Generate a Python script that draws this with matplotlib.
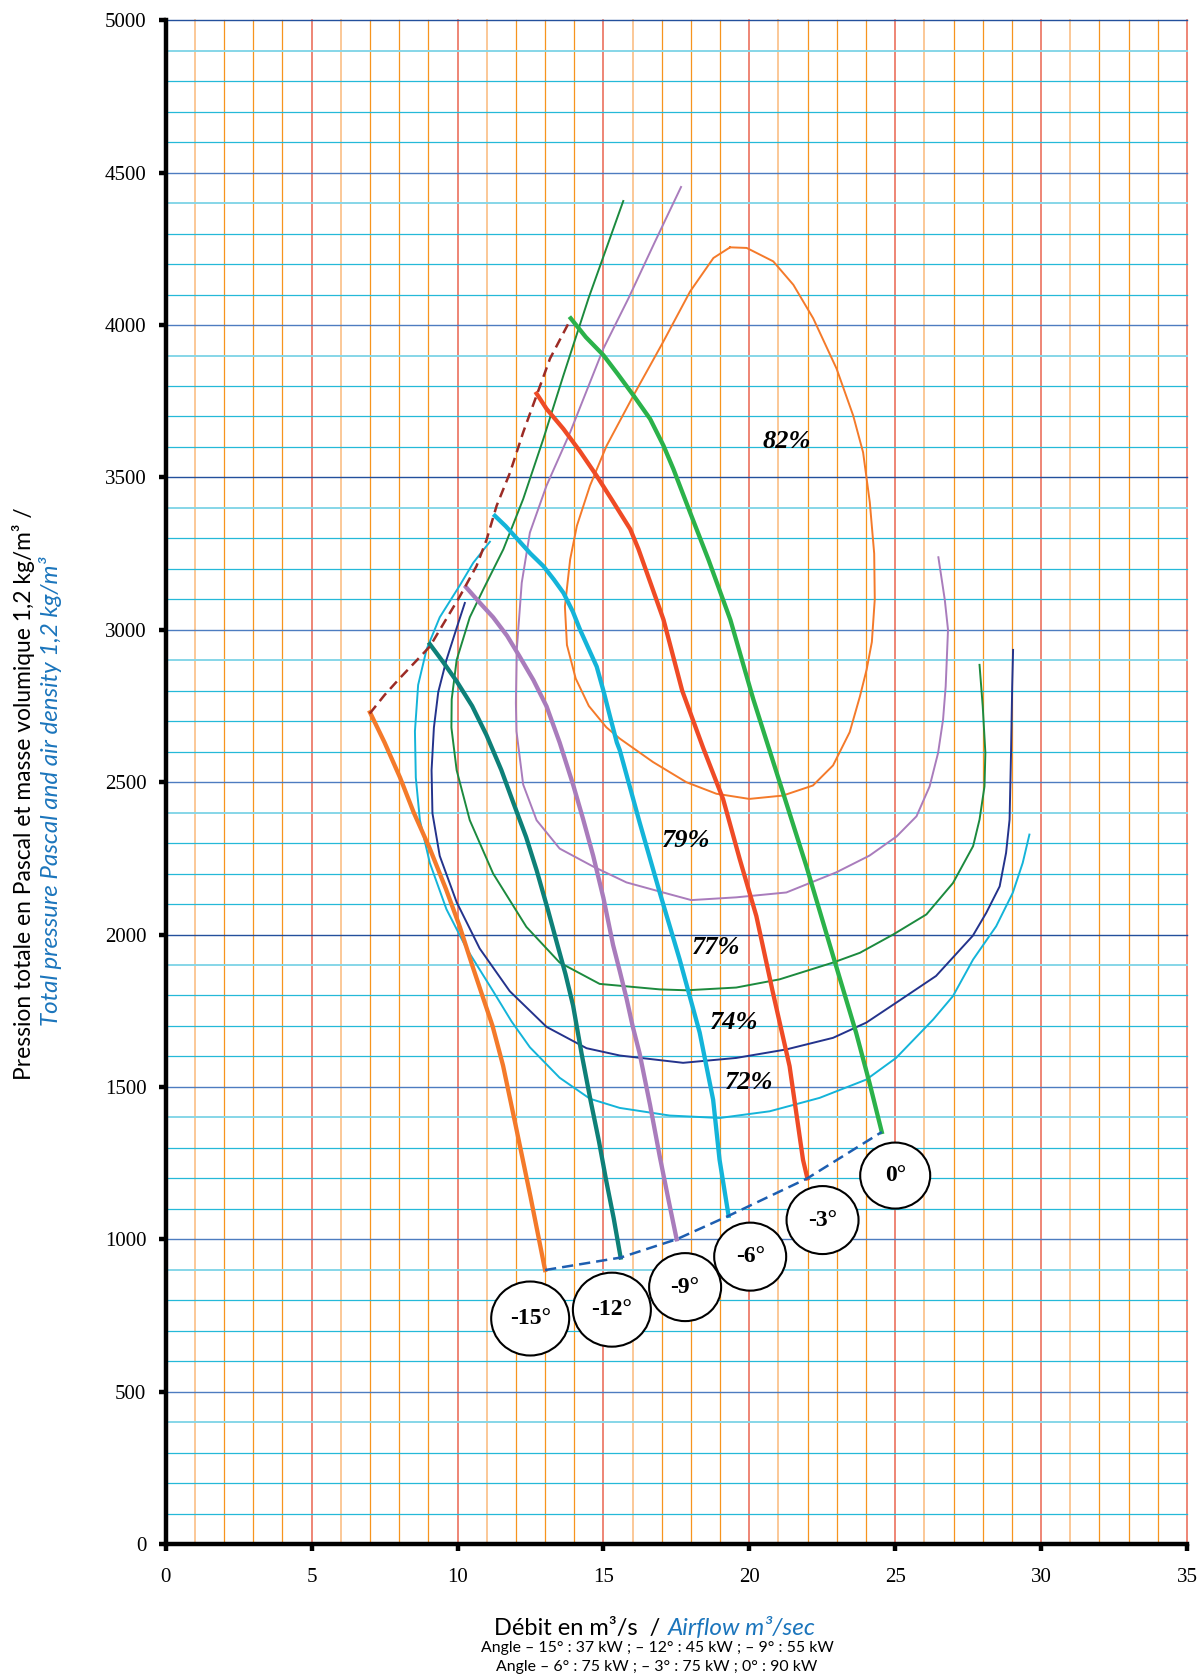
import matplotlib.pyplot as plt
from matplotlib.patches import Ellipse

# Courbes par angle de calage : débit (m3/s) / pression totale (Pa)
q_m15 = [7.0, 7.5, 8.03, 8.5, 9.05, 9.6, 10.08, 10.5, 10.88, 11.2, 11.56, 12.0, 12.5, 13.0]
p_m15 = [2729, 2630, 2515, 2400, 2282, 2150, 2025, 1900, 1791, 1700, 1570, 1370, 1140, 899]

q_m12 = [9.05, 9.5, 9.97, 10.5, 10.99, 11.5, 11.91, 12.35, 12.71, 13.1, 13.39, 13.7, 13.96, 14.25,
         14.55, 14.85, 15.1, 15.35, 15.59]
p_m12 = [2953, 2895, 2831, 2750, 2655, 2540, 2433, 2320, 2211, 2080, 1978, 1870, 1767, 1610,
         1460, 1320, 1190, 1070, 940]

q_m9 = [10.29, 10.75, 11.22, 11.7, 12.13, 12.6, 13.05, 13.5, 13.96, 14.3, 14.65, 15.0, 15.33,
        15.56, 15.79, 16.0, 16.24, 16.6, 16.93, 17.25, 17.51]
p_m9 = [3140, 3090, 3041, 2980, 2912, 2835, 2749, 2630, 2492, 2380, 2258, 2120, 1966,
        1880, 1791, 1700, 1610, 1440, 1272, 1120, 1000]

q_m6 = [11.28, 11.65, 12.03, 12.5, 12.94, 13.3, 13.63, 13.95, 14.2, 14.77, 15.0, 15.23, 15.46,
        15.56, 16.24, 16.93, 17.61, 18.3, 18.76, 18.98, 19.15, 19.29]
p_m6 = [3374, 3340, 3300, 3250, 3209, 3165, 3121, 3060, 3000, 2879, 2800, 2714, 2630,
        2605, 2368, 2138, 1919, 1678, 1458, 1261, 1160, 1077]

q_m3 = [12.71, 13.05, 13.63, 14.2, 14.77, 15.3, 15.92, 16.2, 16.49, 17.06, 17.7, 18.42, 19.1,
        19.67, 20.24, 20.81, 21.38, 21.84, 21.99]
p_m3 = [3775, 3725, 3659, 3585, 3505, 3425, 3330, 3265, 3187, 3033, 2800, 2612, 2445,
        2248, 2061, 1809, 1568, 1261, 1200]

q_0 = [13.88, 14.4, 15.0, 15.5, 16.03, 16.6, 17.06, 17.4, 17.97, 18.6, 19.35, 20.13, 21.04,
       21.95, 22.87, 23.66, 24.12, 24.54]
p_0 = [4022, 3960, 3901, 3838, 3769, 3692, 3604, 3527, 3385, 3230, 3033, 2774, 2500,
       2226, 1930, 1678, 1513, 1352]

# Courbes de rendement
q_82 = [19.34, 19.91, 20.82, 21.51, 22.19, 22.99, 23.56, 23.9, 24.13, 24.28, 24.3, 24.2, 24.02,
        23.79, 23.44, 22.87, 22.18, 21.15, 20.0, 18.87, 17.84, 16.7, 15.56, 15.1, 14.5, 14.05,
        13.75, 13.68, 13.86, 14.09, 14.54, 15.11, 16.03, 17.05, 17.97, 18.77, 19.34]
p_82 = [4255, 4253, 4209, 4132, 4022, 3857, 3703, 3582, 3418, 3250, 3100, 2960, 2869,
        2781, 2664, 2555, 2489, 2456, 2445, 2462, 2500, 2566, 2643, 2680, 2750, 2840,
        2950, 3076, 3231, 3341, 3473, 3604, 3769, 3945, 4110, 4220, 4255]

q_79 = [17.66, 16.75, 15.86, 15.0, 13.86, 13.05, 12.48, 12.2, 12.03, 12.0, 12.02, 12.25, 12.71,
        13.5, 14.65, 15.79, 16.93, 18.01, 19.55, 21.27, 22.98, 24.12, 25.05, 25.73, 26.18,
        26.47, 26.64, 26.73, 26.81, 26.7, 26.48]
p_79 = [4453, 4270, 4088, 3923, 3648, 3473, 3319, 3154, 2934, 2760, 2667, 2492, 2375,
        2282, 2223, 2171, 2141, 2113, 2122, 2138, 2204, 2259, 2322, 2388, 2486,
        2596, 2705, 2814, 3000, 3098, 3238]

q_77 = [15.68, 14.49, 13.63, 12.94, 12.25, 11.57, 10.88, 10.42, 9.97, 9.8, 9.79, 9.97, 10.42,
        11.22, 12.36, 13.5, 14.87, 16.93, 17.84, 19.55, 21.04, 22.87, 23.79, 24.93, 26.07,
        26.98, 27.67, 27.89, 28.06, 28.09, 28.0, 27.89]
p_77 = [4407, 4088, 3835, 3626, 3429, 3264, 3132, 3041, 2901, 2772, 2679, 2539, 2375,
        2200, 2025, 1908, 1838, 1820, 1817, 1826, 1853, 1908, 1940, 2000, 2066,
        2169, 2290, 2377, 2486, 2596, 2749, 2885]

q_74 = [10.25, 9.97, 9.62, 9.34, 9.19, 9.11, 9.14, 9.39, 9.97, 10.76, 11.79, 13.05, 14.42,
        15.56, 17.73, 19.55, 21.27, 22.87, 24.01, 25.03, 26.4, 27.66, 28.12, 28.58, 28.8,
        28.92, 28.97, 29.01, 29.04]
p_74 = [3088, 3006, 2901, 2796, 2679, 2539, 2398, 2258, 2106, 1954, 1814, 1697, 1627,
        1603, 1579, 1595, 1623, 1661, 1711, 1776, 1864, 1996, 2071, 2158, 2268,
        2377, 2596, 2814, 2934]

q_72 = [11.11, 10.54, 10.08, 9.39, 8.94, 8.65, 8.54, 8.57, 8.71, 9.05, 9.62, 10.31, 11.22,
        11.85, 12.48, 13.5, 14.54, 15.56, 17.27, 18.98, 20.7, 22.41, 24.01, 25.03, 26.3, 26.98,
        27.67, 28.46, 29.03, 29.37, 29.6]
p_72 = [3289, 3220, 3146, 3041, 2936, 2819, 2667, 2515, 2375, 2235, 2083, 1954, 1814,
        1715, 1630, 1530, 1461, 1431, 1406, 1398, 1420, 1464, 1524, 1595, 1721, 1798,
        1918, 2027, 2137, 2235, 2328]

# Limite de pompage (pointillés) et points de fin de courbe
q_surge = [6.99, 7.5, 8.02, 9.05, 10.08, 10.65, 11.0, 11.34, 11.8, 12.25, 12.71, 13.17, 13.86]
p_surge = [2725, 2786, 2841, 2945, 3110, 3209, 3297, 3407, 3516, 3648, 3769, 3890, 4016]

q_end = [13.0, 15.59, 17.51, 19.29, 21.99, 24.54]
p_end = [899, 940, 1000, 1077, 1200, 1352]

# Étiquettes des angles (cercles) et des rendements
angle_labels = ['-15°', '-12°', '-9°', '-6°', '-3°', '0°']
angle_q = [12.49, 15.29, 17.8, 20.03, 22.51, 25.0]
angle_p = [740, 769, 843, 943, 1063, 1209]
angle_r = [39, 39, 36, 36, 36, 35]

eff_labels = ['82%', '79%', '77%', '74%', '72%']
eff_q = [21.28, 17.83, 18.85, 19.47, 20.0]
eff_p = [3618, 2308, 1959, 1711, 1515]

BLUE_TXT = '#1b75bc'

fig = plt.figure(figsize=(12.02, 16.77), dpi=100)
ax = fig.add_axes([0.1379, 0.0793, 0.8496, 0.9086])
ax.set_xlim(0, 35)
ax.set_ylim(0, 5000)

# quadrillage
for x in range(1, 36):
    if x % 5 == 0:
        c, w = '#e9654f', 1.1
    elif x % 5 == 1:
        c, w = '#fbc48f', 1.3
    else:
        c, w = '#f7941d', 0.9
    ax.axvline(x, color=c, lw=w, zorder=1, clip_on=False)
for y in range(100, 5001, 100):
    if y % 500 == 0:
        c, w = ('#23509c' if y in (2000, 3500, 5000) else '#4d7cc0'), 1.0
    elif y % 500 == 400:
        c, w = '#86d6e8', 1.4
    else:
        c, w = '#25b9d8', 0.9
    ax.axhline(y, color=c, lw=w, zorder=1, clip_on=False)

# rendements
thin = dict(lw=1.4, zorder=3, solid_joinstyle='round')
ax.plot(q_82, p_82, color='#f47a2a', **thin)
ax.plot(q_79, p_79, color='#a97cbc', **thin)
ax.plot(q_77, p_77, color='#1c8a3e', **thin)
ax.plot(q_74, p_74, color='#24338c', **thin)
ax.plot(q_72, p_72, color='#14b4d9', **thin)

# angles de calage
thick = dict(lw=3.1, zorder=4, solid_joinstyle='round')
ax.plot(q_m15, p_m15, color='#f47a2a', **thick)
ax.plot(q_m12, p_m12, color='#0e8078', **thick)
ax.plot(q_m9, p_m9, color='#a97cbc', **thick)
ax.plot(q_m6, p_m6, color='#14b4d9', **thick)
ax.plot(q_m3, p_m3, color='#ef4b26', **thick)
ax.plot(q_0, p_0, color='#2bb24a', **thick)

ax.plot(q_surge, p_surge, color='#9c2b25', lw=1.8, dashes=(4, 2.4), zorder=5)
ax.plot(q_end, p_end, color='#1d5eb0', lw=1.8, dashes=(4.5, 2.4), zorder=5)

# cercles des angles
pos = ax.get_position()
sx = fig.get_figwidth() * fig.dpi * pos.width / 35
sy = fig.get_figheight() * fig.dpi * pos.height / 5000
for lab, q, p, r in zip(angle_labels, angle_q, angle_p, angle_r):
    ax.add_patch(Ellipse((q, p), 2 * r / sx, 2 * (r - 2) / sy, facecolor='white',
                         edgecolor='black', lw=1.5, zorder=6))
    ax.text(q, p, lab, ha='center', va='center', fontsize=17, fontweight='bold',
            family='Liberation Serif', zorder=7)

for lab, q, p in zip(eff_labels, eff_q, eff_p):
    ax.text(q, p, lab, ha='center', va='center', fontsize=19, fontweight='bold',
            fontstyle='italic', family='Liberation Serif', zorder=7)

# axes
for s in ('top', 'right'):
    ax.spines[s].set_visible(False)
for s in ('left', 'bottom'):
    ax.spines[s].set_linewidth(3.2)
    ax.spines[s].set_zorder(8)
ax.set_xticks(range(0, 36, 5))
ax.set_yticks(range(0, 5001, 500))
ax.tick_params(direction='out', length=5, width=3.2, labelsize=15, pad=9)
ax.tick_params(axis='x', pad=12)
for t in ax.get_xticklabels() + ax.get_yticklabels():
    t.set_family('Liberation Serif')

# titres des axes
fig.text(24 / 1202, 1 - 794 / 1677, 'Pression totale en Pascal et masse volumique 1,2 kg/m³ /',
         rotation=90, ha='center', va='center', fontsize=16.4, family='Lato')
fig.text(51 / 1202, 1 - 791 / 1677, 'Total pressure Pascal and air density 1,2 kg/m³',
         rotation=90, ha='center', va='center', fontsize=17.4, family='Lato',
         fontstyle='italic', color=BLUE_TXT)

fig.text(660 / 1202, 1 - 1628 / 1677, 'Débit en m³/s  /', ha='right', va='center',
         fontsize=17, family='Lato')
fig.text(668 / 1202, 1 - 1628 / 1677, 'Airflow m³/sec', ha='left', va='center',
         fontsize=17.5, family='Lato', fontstyle='italic', color=BLUE_TXT)
fig.text(657 / 1202, 1 - 1648 / 1677, 'Angle – 15° : 37 kW ; – 12° : 45 kW ; – 9° : 55 kW',
         ha='center', va='center', fontsize=11.4, family='Lato')
fig.text(657 / 1202, 1 - 1667 / 1677, 'Angle – 6° : 75 kW ; – 3° : 75 kW ; 0° : 90 kW',
         ha='center', va='center', fontsize=11.4, family='Lato')

fig.savefig('out.png', dpi=100)
